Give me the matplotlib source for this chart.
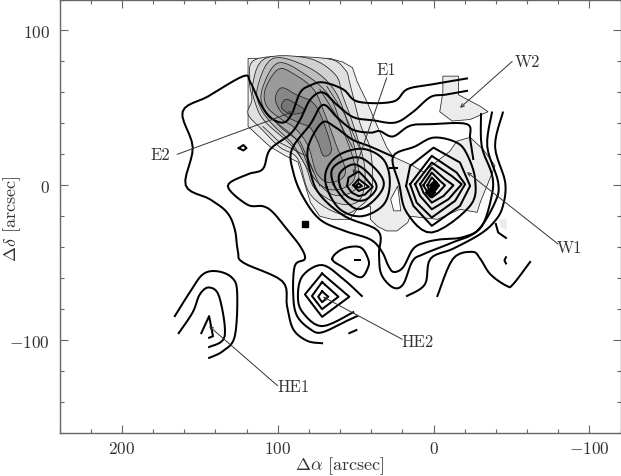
import numpy as np
import matplotlib
matplotlib.use('Agg')
import matplotlib.pyplot as plt

plt.rcParams['font.family'] = ['cmr10', 'DejaVu Serif']
plt.rcParams['mathtext.fontset'] = 'cm'
plt.rcParams['axes.unicode_minus'] = False

# grey map levels, outer to inner (offsets in arcsec)
grey0 = [(119,82),(66.5,82),(58,79.5),(52,76),(49,67),(42.5,53.5),(36,38),(30,24.5),(26,18.5),(13,12.5),(6.5,8.5),(-10.5,22),(-15,28.5),(-23.5,31),(-32,23),(-39.5,12.5),(-30,-11),(-28,-17.5),(-17,-15.5),(-2.5,-22),(15,-20),(16.5,-24),(23.5,-29.5),(30,-29.5),(36,-26.5),(40.5,-22),(40.5,-13.5),(49,-15.5),(53.5,-22),(65,-22),(73,-20),(79,-11),(87,15),(94,18.5),(105,25),(119,38)]
grey1 = [(112.5,82),(118,68.5),(116.5,55.5),(119,46),(110,36),(98.5,24.5),(87,17),(79,-6),(60,-18.5),(47,-13.5),(39.5,-2.5),(40.5,23),(47,39.5),(53.5,65),(57,75),(69.5,82)]
grey2 = [(108,82),(116,65),(114,52),(108,41),(92,26.5),(82.5,13.5),(76,-2.5),(60,-12),(47,-9),(44,10.5),(50.5,36),(58.5,58.5),(63,71.5),(80,82)]
grey3 = [(103,82),(113,63),(111,50),(103,39),(90,26),(79,8),(65,-6),(50,-2.5),(48.5,13.5),(55,40),(64,62),(80,76)]
grey4 = [(100,79),(110,62),(109,50),(100,40),(87,28),(77,5),(65,-3),(52,2),(51,15),(59,38),(67,58),(83,72)]
grey5 = [(99.5,75),(108,62),(107,51),(97.5,42.5),(89,37),(80.5,25.5),(75,8),(66.5,1.7),(56.5,8),(63,27.5),(70.5,48),(77,62),(89,71.5)]
grey6 = [(97.5,63),(101.5,55.5),(96.5,46),(86.5,40.5),(79,37),(74,27.5),(70.5,19),(65.5,23),(70.5,40.5),(77,53),(88,58.5)]
grey7 = [(95,55.5),(97.5,50),(91,46),(82.5,48),(89,53)]
grey_w2 = [(-6,70.5),(-16,70.5),(-16,58.5),(-30,51),(-35,47.5),(-23.5,42.5),(-12,41.5),(-4,47.5),(-6,60)]
grey_sw = [(-42,-22),(-47,-22),(-47,-29.5),(-43,-26.5)]
hole = [(23,-0.5),(27.5,-9),(25.5,-16.5),(21,-16.5)]
grey_levels = [grey0, grey1, grey2, grey3, grey4, grey5, grey6, grey7]
grey_colors = ['#ececec', '#e0e0e0', '#d0d0d0', '#bebebe', '#adadad', '#9a9a9a', '#878787', '#767676']

# thin extra contours on the ridge
thin1 = [(68.5,64),(57,46),(47,23)]
thin2 = [(73,62),(63,46),(52,24.5)]
thin3 = [(109.5,38),(98.5,27.5),(81,18.5),(73,-0.5)]
thin4 = [(105,44.5),(96.5,36),(85.5,28),(77,8.5)]
thin_lines = [thin1, thin2, thin3, thin4]

# open thick contours
line1 = [(71.5,-102),(81,-100.5),(90,-93),(94,-78),(97,-62),(122,-50),(125.5,-43),(127.5,-28.5),(132.5,-17.5),(143.5,-9),(159,0),(154.5,24.5),(161,47.5),(144.5,57.5),(122,70.5),(117.5,66.5),(111.5,53.5),(105,44),(96.5,40.5),(91,46),(85.5,60),(79,64.5),(71,66.5),(58,62),(48.5,54),(26,54),(17,62),(2,65),(-21.5,69)]
line2 = [(49,-84.5),(55.5,-87.5),(71.5,-95),(79,-93),(87.5,-84.5),(90,-71.5),(89,-52),(82.5,-47.5),(85.5,-39.5),(94,-28.5),(103,-17.5),(109.5,-13.5),(119.5,-12.5),(132,-0.5),(119.5,7),(109.5,10.5),(105,23),(92,33),(85.5,42.5),(79,55.5),(71,60),(62,52),(51.5,44),(39,42),(24.5,40.5),(13,47.5),(2,57),(-7.5,58.5),(-21.5,61)]
line3 = [(-25.5,17),(-23.5,30),(-21.5,39.5),(1,39.5),(15,38.5),(26,31.5),(34.5,35),(40.5,34),(52,36),(62,44),(71,52),(79,39.5),(91,23),(90,8.5),(84,-7),(73,-22),(57,-29.5),(40.5,-35),(33,-43),(29,-52),(25.5,-56),(19.5,-53),(13,-41),(5.5,-37),(-4,-35),(-19,-33.5),(-31,-26.5),(-37.5,-6),(-37.5,7),(-31,25),(-30.5,46)]
line4 = [(26,18.5),(40.5,25),(52,29.5),(63,37.5),(71.5,40.5),(80.5,24.5),(79,8.5),(73,-6),(57,-20),(35.5,-29.5),(35,-44.5),(33.5,-57.5),(26,-66),(19.5,-64),(13.5,-49),(6.5,-44.5),(-12,-37),(-28,-29.5),(-39.5,-11),(-41.5,2),(-34.5,25),(-37.5,47)]
line5 = [(-44.5,47),(-39.5,25),(-46,2),(-44.5,-13.5),(-39.5,-23),(-30,-31.5),(-12.5,-41),(2,-47.5),(5.5,-64),(17,-71.5)]
line6 = [(-2.5,-71.5),(-12.5,-47.5),(-25,-43),(-30,-47.5),(-36.5,-57.5),(-47,-65),(-51,-64),(-62,-49.5)]
piece1 = [(-40,-25),(-41.5,-30.5),(-46.5,-34)]
piece2 = [(-46.5,-46.5),(-45.5,-48.5),(-46.5,-50.5)]
dash1 = [(28,11),(23.5,11)]
dash2 = [(50.5,-48),(47,-48)]
dash3 = [(54,-95.5),(49.5,-93.5)]
he2_a = [(46,-71.5),(58,-60.5),(71.5,-51.5),(84,-58.5),(87,-71.5),(84,-82),(71.5,-91),(51.5,-82)]
he1_a = [(166,-84.5),(156,-68.5),(148,-57.5),(139,-55.5),(129.5,-59.5),(126,-69),(127.5,-97.5),(135,-107),(144,-111.5)]
he1_b = [(163.5,-95.5),(154.5,-82),(150,-70.5),(144,-66),(137.5,-72),(134,-97.5),(144,-104.5)]
he1_c = [(149,-95.5),(144,-84.5),(141.5,-97.5),(144,-98.5)]
smooth_open = [line1, line2, line3, line4, line5, line6, he2_a, he1_a, he1_b]
plain_open = [piece1, piece2, dash1, dash2, dash3, he1_c]

# closed thick contours
loop_a = [(125,24),(122,26),(120,24),(122,22.5)]
blob = [(65,-47.5),(58,-41),(47,-40),(42,-47.5),(42,-53),(47,-59.5),(58,-53)]
he2_b = [(71.5,-57),(82.5,-70.5),(71.5,-85),(54,-72)]
he2_c = [(71.5,-62.5),(78,-71.5),(71.5,-80),(61,-72)]
he2_d = [(71.5,-68.5),(74,-72),(71.5,-75.5),(67.5,-72)]
e1_a = [(68.5,-1.5),(68.5,10.5),(60,20),(45,23.5),(32,16.5),(28,2),(32,-12.5),(46,-20),(60,-15.5)]
e1_b = [(64,0.5),(65,10.5),(56.5,16.5),(46,17.5),(35,8),(32,-0.5),(38.5,-10),(48,-15.5),(56.5,-10)]
e1_c = [(60,-0.5),(60,8),(51.5,13.5),(43,9),(36.5,-0.5),(41.5,-8),(48,-10),(55.5,-7)]
e1_d = [(55.5,-0.5),(54.5,5),(48,9),(44,5),(39,-1),(44,-6),(48,-7),(52.5,-4.7)]
e1_e = [(51.5,0),(48,4),(41.5,-1),(48,-3.7)]
e1_f = [(50,-0.5),(48,1.3),(46,-0.5),(48,-1.5)]
w1_0 = [(26,18.5),(12,25),(0,30.8),(-14,28),(-21,21),(-26.7,3.9),(-23.5,-13.3),(1.1,-30.5),(17.2,-17.6),(22,0.7)]
w1_1 = [(17.6,-0.4),(15,12.5),(0,24.3),(-17,14.7),(-23.5,-0.4),(-17,-13.3),(1.1,-26.2),(12.9,-13.3)]
w1_2 = [(15,0.7),(1.1,19),(-14.9,8.2),(-20.3,0.7),(-13.9,-10),(1.1,-20.8),(10.8,-11.2)]
w1_3 = [(11.8,0.7),(1.1,14.7),(-11.7,6),(-18.1,0.7),(-9.6,-9),(1.1,-15.5),(8.6,-6.9)]
w1_4 = [(8.6,0.7),(1.1,11.4),(-7.4,3.9),(-12.8,0),(-6.4,-6.9),(1.1,-11.2),(6.5,-4.7)]
w1_5 = [(6.5,0),(1.1,8.2),(-4.2,2.8),(-7.4,0),(-3.2,-4.7),(1.1,-7.9),(4.3,-3.6)]
w1_6 = [(3.9,0),(1.1,5),(-2.1,1.8),(-3.2,-0.4),(-1,-3.6),(2.2,-4.7)]
round_closed = [blob, e1_a, e1_b, e1_c, w1_0]
sharp_closed = [loop_a, he2_b, he2_c, he2_d, e1_d, e1_e, e1_f, w1_1, w1_2, w1_3, w1_4, w1_5, w1_6]

# markers
peak_x = [0, 2]
peak_y = [0, -4.5]
square_x = [82.3]
square_y = [-25]

# label, text position, leader start, leader tip
names = ['E1', 'W2', 'E2', 'W1', 'HE2', 'HE1']
name_pos = [(30,75), (-60.5,80), (175,20), (-87.5,-40), (10.5,-100.5), (90,-130)]
lead_start = [(30,69.5), (-50.5,80), (164.5,20), (-80,-38), (20,-99.5), (100,-129.5)]
lead_tip = [(51.5,7), (-17,50), (90,47.5), (-21.5,8.5), (71,-72), (144,-91)]

x_major = [200, 100, 0, -100]
y_major = [100, 0, -100]


def spline(pts, closed=False, steps=6):
    # catmull-rom through the points
    p = np.array(pts, dtype=float)
    if closed:
        p = np.vstack([p[-1], p, p[0], p[1]])
    else:
        p = np.vstack([p[0], p, p[-1]])
    out = []
    t = np.linspace(0, 1, steps, endpoint=False)[:, None]
    for i in range(1, len(p)-2):
        p0, p1, p2, p3 = p[i-1], p[i], p[i+1], p[i+2]
        out.append(0.5*(2*p1 + (p2-p0)*t + (2*p0-5*p1+4*p2-p3)*t**2 + (3*p1-p0-3*p2+p3)*t**3))
    out = np.vstack(out)
    return np.vstack([out, p[-2]])


fig = plt.figure(figsize=(6.21, 4.77), dpi=100)
ax = fig.add_axes([59.5/621, 1-434/477, 561/621, 433.5/477])

for i, (pts, col) in enumerate(zip(grey_levels, grey_colors)):
    p = np.array(pts) if i == 0 else spline(pts, closed=True)
    ax.fill(p[:, 0], p[:, 1], facecolor=col, edgecolor='#222222', lw=0.55, zorder=1+i*0.1)
ax.fill(*zip(*grey_w2), facecolor='#ececec', edgecolor='#222222', lw=0.55, zorder=1)
ax.fill(*zip(*grey_sw), facecolor='#ececec', edgecolor='none', zorder=1)
ax.fill(*zip(*hole), facecolor='white', edgecolor='#222222', lw=0.55, zorder=1.9)
for pts in thin_lines:
    ax.plot(*zip(*pts), color='#222222', lw=0.55, zorder=2)

for pts in smooth_open:
    p = spline(pts)
    ax.plot(p[:, 0], p[:, 1], color='black', lw=1.45, zorder=3)
for pts in plain_open:
    ax.plot(*zip(*pts), color='black', lw=1.45, zorder=3)
for pts in round_closed:
    p = spline(pts, closed=True)
    ax.plot(p[:, 0], p[:, 1], color='black', lw=1.45, zorder=3)
for pts in sharp_closed:
    pts = pts + pts[:1]
    ax.plot(*zip(*pts), color='black', lw=1.45, solid_joinstyle='round', zorder=3)

ax.plot(peak_x, peak_y, 'D', color='black', ms=5, zorder=4)
ax.plot(square_x, square_y, 's', color='black', ms=5, zorder=4)

for name, pos, start, tip in zip(names, name_pos, lead_start, lead_tip):
    ax.text(pos[0], pos[1], name, color='#333333', fontsize=12, ha='center', va='center', zorder=5)
    ax.annotate('', xy=tip, xytext=start, zorder=5,
                arrowprops=dict(arrowstyle='->,head_length=0.25,head_width=0.12', color='#333333', lw=0.7, shrinkA=0, shrinkB=0))

ax.set_xlim(240, -120)
ax.set_ylim(-160, 120)
ax.set_xticks(x_major)
ax.set_xticklabels(['$%d$' % v for v in x_major])
ax.set_yticks(y_major)
ax.set_yticklabels(['$%d$' % v for v in y_major])
ax.set_xticks(np.arange(-120, 241, 20), minor=True)
ax.set_yticks(np.arange(-160, 121, 20), minor=True)
ax.tick_params(which='major', direction='in', length=6, width=0.8, color='#666666', top=True, right=True,
               labelsize=12.5, labelcolor='#333333')
ax.tick_params(axis='x', which='major', pad=5)
ax.tick_params(axis='y', which='major', pad=7)
ax.tick_params(which='minor', direction='in', length=3, width=0.8, color='#666666', top=True, right=True)
for s in ax.spines.values():
    s.set_color('#666666')
    s.set_linewidth(1.0)
ax.set_xlabel(r'$\Delta\alpha$ [arcsec]', fontsize=13, color='#333333', va='center')
ax.set_ylabel(r'$\Delta\delta$ [arcsec]', fontsize=13, color='#333333', va='center')
ax.xaxis.set_label_coords(0.5, -0.075)
ax.yaxis.set_label_coords(-0.084, 0.497)

fig.savefig('out.png', dpi=100)
